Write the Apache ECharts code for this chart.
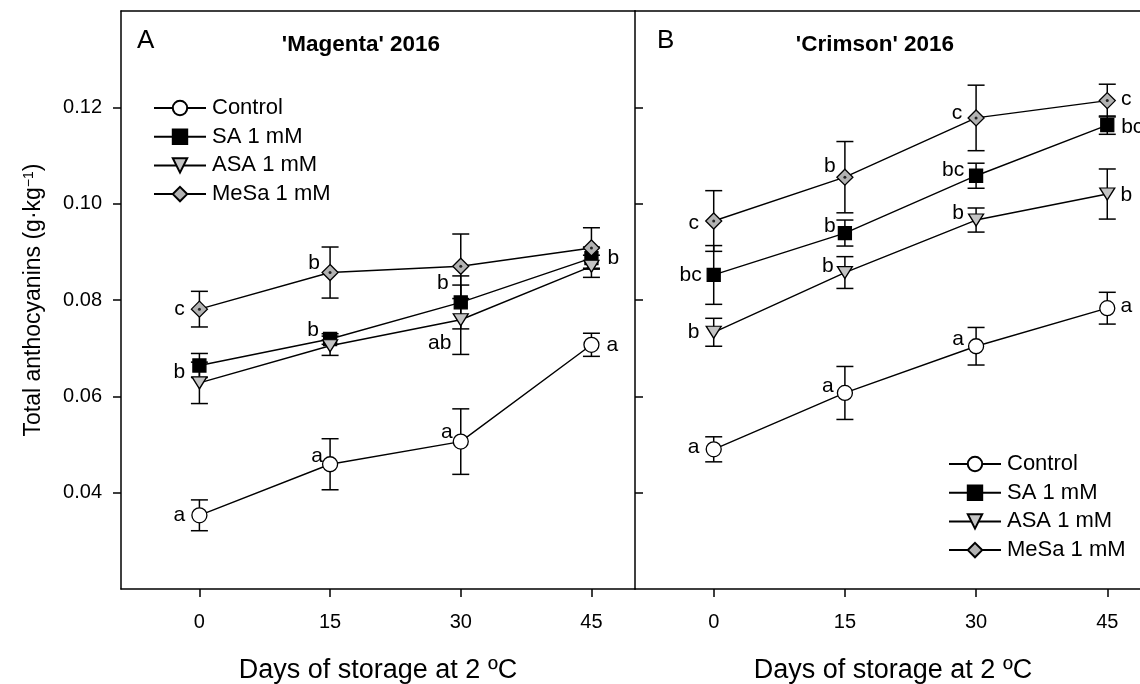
<!DOCTYPE html>
<html lang="en">
<head>
<meta charset="utf-8">
<title>Total anthocyanins 2016</title>
<script src="https://cdn.jsdelivr.net/npm/echarts@6.0.0/dist/echarts.min.js"></script>
<style>
  html, body { margin: 0; padding: 0; background: #fff; }
  #chart { width: 1140px; height: 684px; }
</style>
</head>
<body>
<div id="chart"></div>
<script>
// x axis: days of storage
var days = [0, 15, 30, 45];
var yTicks = [0.04, 0.06, 0.08, 0.10, 0.12];
var treatments = ['Control', 'SA 1 mM', 'ASA 1 mM', 'MeSa 1 mM'];

// 'Magenta' 2016 (panel A) - mean and error
var magControl = [0.0353, 0.0459, 0.0506, 0.0707];
var magControlErr = [0.0032, 0.0053, 0.0068, 0.0024];
var magSA = [0.0664, 0.0719, 0.0795, 0.0887];
var magSAErr = [0.0025, 0.0011, 0.0055, 0.0023];
var magASA = [0.0628, 0.0705, 0.0759, 0.0870];
var magASAErr = [0.0043, 0.0020, 0.0072, 0.0023];
var magMeSa = [0.0781, 0.0857, 0.0870, 0.0908];
var magMeSaErr = [0.0037, 0.0053, 0.0067, 0.0042];

// 'Crimson' 2016 (panel B)
var crmControl = [0.0490, 0.0607, 0.0704, 0.0783];
var crmControlErr = [0.0026, 0.0055, 0.0039, 0.0033];
var crmSA = [0.0852, 0.0939, 0.1058, 0.1163];
var crmSAErr = [0.0061, 0.0027, 0.0026, 0.0019];
var crmASA = [0.0733, 0.0857, 0.0966, 0.1020];
var crmASAErr = [0.0029, 0.0033, 0.0025, 0.0052];
var crmMeSa = [0.0964, 0.1055, 0.1178, 0.1214];
var crmMeSaErr = [0.0063, 0.0074, 0.0068, 0.0034];

// significance letters
var magControlLet = ['a', 'a', 'a', 'a'];
var magSALet = ['b', 'b', 'b', 'b'];
var magASALet = ['', '', 'ab', ''];
var magMeSaLet = ['c', 'b', '', ''];
var crmControlLet = ['a', 'a', 'a', 'a'];
var crmSALet = ['bc', 'b', 'bc', 'bc'];
var crmASALet = ['b', 'b', 'b', 'b'];
var crmMeSaLet = ['c', 'b', 'c', 'c'];

var FONT = 'Liberation Sans, Arial, sans-serif';

// letter offsets (px) relative to each marker
var offA = [
    [[-20, 0], [-13, -8], [-14, -9], [21, 0]],
    [[-20, 7], [-17, -9], [-18, -19], [22, 0]],
    [[0, 0], [0, 0], [-21, 23], [0, 0]],
    [[-20, 0], [-16, -9], [0, 0], [0, 0]]
];
var offB = [
    [[-20, -2], [-17, -7], [-18, -7], [19, -2]],
    [[-23, 0], [-15, -7], [-23, -6], [25, 2]],
    [[-20, 0], [-17, -6], [-18, -7], [19, 1]],
    [[-20, 2], [-15, -11], [-19, -5], [19, -1]]
];

var marks = [
    { symbol: 'circle', size: 15, fill: '#ffffff' },
    { symbol: 'rect', size: 13, fill: '#000000' },
    { symbol: 'triangle', size: [15, 12], rotate: 180, fill: '#c4c4c4' },
    { symbol: 'diamond', size: 16, fill: '#b2b2b2' }
];

function errorItem(params, api) {
    var x = api.value(0);
    var lo = api.coord([x, api.value(1)]);
    var hi = api.coord([x, api.value(2)]);
    var w = 8.5;
    var st = { stroke: '#000', lineWidth: 1.5 };
    return {
        type: 'group',
        children: [
            { type: 'line', shape: { x1: lo[0], y1: lo[1], x2: hi[0], y2: hi[1] }, style: st },
            { type: 'line', shape: { x1: lo[0] - w, y1: lo[1], x2: lo[0] + w, y2: lo[1] }, style: st },
            { type: 'line', shape: { x1: hi[0] - w, y1: hi[1], x2: hi[0] + w, y2: hi[1] }, style: st }
        ]
    };
}

function panelSeries(gi, vals, errs, lets, offs) {
    var out = [];
    var bars = [];
    vals.forEach(function (v, t) {
        v.forEach(function (y, i) {
            bars.push([days[i], y - errs[t][i], y + errs[t][i]]);
        });
    });
    out.push({
        type: 'custom', xAxisIndex: gi, yAxisIndex: gi, z: 1, silent: true,
        renderItem: errorItem, encode: { x: 0, y: [1, 2] }, data: bars
    });
    vals.forEach(function (v, t) {
        var m = marks[t];
        out.push({
            name: treatments[t], type: 'line', xAxisIndex: gi, yAxisIndex: gi, z: 3,
            symbol: m.symbol, symbolSize: m.size, symbolRotate: m.rotate || 0,
            lineStyle: { color: '#000', width: 1.4 },
            itemStyle: { color: m.fill, borderColor: '#000', borderWidth: 1.3 },
            label: { show: true, position: 'inside', fontSize: 21, fontFamily: FONT, color: '#000' },
            data: v.map(function (y, i) {
                return {
                    value: [days[i], y],
                    label: { show: lets[t][i] !== '', formatter: lets[t][i], offset: offs[t][i] }
                };
            })
        });
    });
    // center dot of MeSa diamonds
    out.push({
        name: 'dot', type: 'scatter', xAxisIndex: gi, yAxisIndex: gi, z: 5, silent: true,
        symbol: 'circle', symbolSize: 3, itemStyle: { color: '#000' },
        data: vals[3].map(function (y, i) { return [days[i], y]; })
    });
    return out;
}

function xAxis(gi) {
    return {
        gridIndex: gi, type: 'value', min: -9, max: 50,
        axisLine: { show: true, onZero: false, lineStyle: { color: '#000', width: 1.5 } },
        axisTick: { show: true, customValues: days, length: 8, lineStyle: { color: '#000', width: 1.5 } },
        axisLabel: { customValues: days, fontSize: 20, fontFamily: FONT, color: '#000', margin: 23 },
        splitLine: { show: false },
        name: 'Days of storage at 2 \u00baC', nameLocation: 'middle', nameGap: 68,
        nameTextStyle: { fontSize: 27, fontFamily: FONT, color: '#000' }
    };
}

// top frame line of each panel
function topAxis(gi) {
    return {
        gridIndex: gi, type: 'value', position: 'top', min: -9, max: 50,
        axisLine: { show: true, onZero: false, lineStyle: { color: '#000', width: 1.5 } },
        axisTick: { show: false }, axisLabel: { show: false }, splitLine: { show: false }
    };
}

function yAxis(gi) {
    var ax = {
        gridIndex: gi, type: 'value', min: 0.02, max: 0.14,
        axisLine: { show: true, onZero: false, lineStyle: { color: '#000', width: 1.5 } },
        axisTick: { show: true, customValues: yTicks, inside: gi === 1, length: 8, lineStyle: { color: '#000', width: 1.5 } },
        axisLabel: {
            show: gi === 0, customValues: yTicks, fontSize: 20, fontFamily: FONT, color: '#000', margin: 19,
            formatter: function (v) { return v.toFixed(2); }
        },
        splitLine: { show: false }
    };
    if (gi === 0) {
        ax.name = 'Total anthocyanins (g\u00b7kg{sup|\u22121})';
        ax.nameLocation = 'middle';
        ax.nameGap = 76;
        ax.nameTextStyle = {
            fontSize: 23, fontFamily: FONT, color: '#000',
            rich: { sup: { fontSize: 14, fontFamily: FONT, color: '#000', verticalAlign: 'top', padding: [0, 0, 8, 0] } }
        };
    }
    return ax;
}

function legend(left, top) {
    return {
        orient: 'vertical', left: left, top: top, itemWidth: 52, itemHeight: 18, itemGap: 6.7,
        selectedMode: false, data: treatments,
        textStyle: { fontSize: 22, fontFamily: FONT, color: '#000', padding: [0, 0, 0, 1] }
    };
}

var chart = echarts.init(document.getElementById('chart'), null, { renderer: 'canvas' });

var series = panelSeries(0,
    [magControl, magSA, magASA, magMeSa],
    [magControlErr, magSAErr, magASAErr, magMeSaErr],
    [magControlLet, magSALet, magASALet, magMeSaLet], offA
).concat(panelSeries(1,
    [crmControl, crmSA, crmASA, crmMeSa],
    [crmControlErr, crmSAErr, crmASAErr, crmMeSaErr],
    [crmControlLet, crmSALet, crmASALet, crmMeSaLet], offB
));

chart.setOption({
    animation: false,
    backgroundColor: '#fff',
    grid: [
        { left: 121, top: 11, width: 514, height: 578, outerBoundsMode: 'none' },
        { left: 635, top: 11, width: 516, height: 578, outerBoundsMode: 'none' }
    ],
    xAxis: [xAxis(0), xAxis(1), topAxis(0), topAxis(1)],
    yAxis: [yAxis(0), yAxis(1)],
    legend: [legend(148, 92), legend(943, 448)],
    graphic: [
        { type: 'text', x: 137, y: 41, style: { text: 'A', font: '26px ' + FONT, fill: '#000', verticalAlign: 'middle' } },
        { type: 'text', x: 361, y: 45, style: { text: "'Magenta' 2016", font: 'bold 22.5px ' + FONT, fill: '#000', align: 'center', verticalAlign: 'middle' } },
        { type: 'text', x: 657, y: 41, style: { text: 'B', font: '26px ' + FONT, fill: '#000', verticalAlign: 'middle' } },
        { type: 'text', x: 875, y: 45, style: { text: "'Crimson' 2016", font: 'bold 22.5px ' + FONT, fill: '#000', align: 'center', verticalAlign: 'middle' } }
    ],
    series: series
});
</script>
</body>
</html>
